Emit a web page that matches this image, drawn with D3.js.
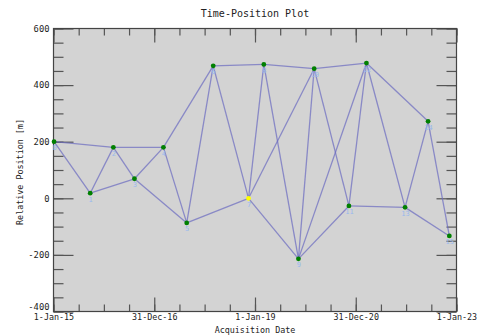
<!DOCTYPE html>
<html>
<head>
<meta charset="utf-8">
<script src="https://cdn.jsdelivr.net/npm/d3@7"></script>
<style>
  body { margin: 0; background: #fff; }
  svg { display: block; }
</style>
</head>
<body>
<svg id="chart" width="482" height="336"></svg>
<script>
// acquisition dates and relative positions
var dates = ["2015-01-05", "2015-09-24", "2016-03-10", "2016-08-10", "2017-03-08",
    "2017-08-24", "2018-03-04", "2018-11-15", "2019-03-06", "2019-11-12",
    "2020-03-05", "2020-11-12", "2021-03-19", "2021-12-24", "2022-06-09", "2022-11-10"];
var positions = [200, 18, 180, 69, 180, -87, 468, 0, 473, -214, 458, -27, 478, -32, 272, -133];
// pairs of point indices joined by a line
var pairs = [[0, 1], [0, 2], [1, 2], [1, 3], [2, 3], [2, 4], [3, 4], [3, 5], [4, 5], [4, 6],
    [5, 6], [5, 7], [6, 7], [6, 8], [7, 8], [7, 9], [7, 10], [8, 9], [8, 10], [9, 10],
    [9, 11], [9, 12], [10, 11], [10, 12], [11, 12], [11, 13], [12, 13], [12, 14],
    [13, 14], [13, 15], [14, 15]];
var masterIndex = 7;
var xTickLabels = ["1-Jan-15", "31-Dec-16", "1-Jan-19", "31-Dec-20", "1-Jan-23"];
var yTicks = [-400, -200, 0, 200, 400, 600];
var yMinorTicks = d3.range(-400, 601, 50);

var Mono = "'DejaVu Sans Mono', monospace";
var box = { left: 53.5, right: 456.5, top: 28.5, bottom: 311.5 };

var svg = d3.select("#chart");
var parse = d3.utcParse("%Y-%m-%d");
var t0 = parse("2015-01-01"), t1 = parse("2023-01-01");

var x = d3.scaleUtc().domain([t0, t1]).range([box.left, box.right]);
var y = d3.scaleLinear().domain([-400, 600]).range([box.bottom, box.top]);

// major ticks every 2 years, minor every half year (axis is linear in days)
var majorDates = xTickLabels.map((_, i) => new Date(+t0 + i * (t1 - t0) / 4));
var minorDates = d3.range(0, 17).map(i => new Date(+t0 + i * (t1 - t0) / 16));

svg.append("rect")
    .attr("x", box.left).attr("y", box.top)
    .attr("width", box.right - box.left).attr("height", box.bottom - box.top)
    .attr("fill", "#d3d3d3");

function styleAxis(g) {
    g.select(".domain").remove();
    g.selectAll("line").attr("stroke", "#555").attr("stroke-width", 1.2);
    g.selectAll("text").attr("fill", "#222").attr("font-family", Mono);
}

// bottom / top, ticks pointing inward
svg.append("g").attr("transform", `translate(0,${box.bottom})`)
    .call(d3.axisBottom(x).tickValues(minorDates).tickSize(-7).tickFormat(""))
    .call(styleAxis);
svg.append("g").attr("transform", `translate(0,${box.bottom})`)
    .call(d3.axisBottom(x).tickValues(majorDates).tickSize(-14).tickPadding(2.5)
        .tickFormat((d, i) => xTickLabels[i]))
    .call(styleAxis)
    .selectAll("text").attr("font-size", 8.4);
svg.append("g").attr("transform", `translate(0,${box.top})`)
    .call(d3.axisTop(x).tickValues(minorDates).tickSize(-7).tickFormat(""))
    .call(styleAxis);
svg.append("g").attr("transform", `translate(0,${box.top})`)
    .call(d3.axisTop(x).tickValues(majorDates).tickSize(-14).tickFormat(""))
    .call(styleAxis);

// left / right
svg.append("g").attr("transform", `translate(${box.left},0)`)
    .call(d3.axisLeft(y).tickValues(yMinorTicks).tickSize(-10).tickFormat(""))
    .call(styleAxis);
svg.append("g").attr("transform", `translate(${box.left},0)`)
    .call(d3.axisLeft(y).tickValues(yTicks).tickSize(-20).tickPadding(4)
        .tickFormat(d => String(d)))
    .call(styleAxis)
    .selectAll("text").attr("font-size", 8.8)
    // lowest label sits just above the date labels
    .attr("dy", d => d === -400 ? "-0.22em" : "0.32em");
svg.append("g").attr("transform", `translate(${box.right},0)`)
    .call(d3.axisRight(y).tickValues(yMinorTicks).tickSize(-10).tickFormat(""))
    .call(styleAxis);
svg.append("g").attr("transform", `translate(${box.right},0)`)
    .call(d3.axisRight(y).tickValues(yTicks).tickSize(-20).tickFormat(""))
    .call(styleAxis);

// frame
svg.append("rect")
    .attr("x", box.left).attr("y", box.top)
    .attr("width", box.right - box.left).attr("height", box.bottom - box.top)
    .attr("fill", "none").attr("stroke", "#444").attr("stroke-width", 1.2);

var pts = dates.map((d, i) => ({ i: i, t: parse(d), v: positions[i] }));

// network lines
svg.append("g")
    .attr("stroke", "#6c6cc0")
    .attr("stroke-opacity", 0.72)
    .attr("stroke-width", 1.3)
    .selectAll("line")
    .data(pairs)
    .join("line")
    .attr("x1", d => x(pts[d[0]].t)).attr("y1", d => y(pts[d[0]].v))
    .attr("x2", d => x(pts[d[1]].t)).attr("y2", d => y(pts[d[1]].v));

// point index labels
svg.append("g")
    .attr("font-family", Mono)
    .attr("font-size", 7)
    .attr("fill", "#98b9ee")
    .attr("text-anchor", "middle")
    .selectAll("text")
    .data(pts)
    .join("text")
    .attr("x", d => x(d.t) + 0.5)
    .attr("y", d => y(d.v) + 8.5)
    .text(d => d.i);

svg.append("g")
    .selectAll("circle")
    .data(pts)
    .join("circle")
    .attr("cx", d => x(d.t))
    .attr("cy", d => y(d.v))
    .attr("r", 2.4)
    .attr("fill", d => d.i === masterIndex ? "#ffff00" : "#008000");

// titles
svg.append("text")
    .attr("x", 255).attr("y", 17)
    .attr("text-anchor", "middle")
    .attr("font-family", Mono).attr("font-size", 10)
    .attr("fill", "#222")
    .text("Time-Position Plot");
svg.append("text")
    .attr("x", 255).attr("y", 333)
    .attr("text-anchor", "middle")
    .attr("font-family", Mono).attr("font-size", 8.4)
    .attr("fill", "#222")
    .text("Acquisition Date");
svg.append("text")
    .attr("transform", "translate(23,172) rotate(-90)")
    .attr("text-anchor", "middle")
    .attr("font-family", Mono).attr("font-size", 8.4)
    .attr("fill", "#222")
    .text("Relative Position [m]");
</script>
</body>
</html>
